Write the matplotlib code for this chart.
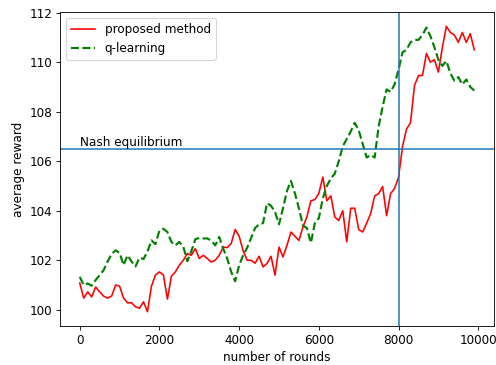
import numpy as np
import matplotlib
matplotlib.use('Agg')
import matplotlib.pyplot as plt

# rounds sampled every 100
rounds = np.arange(0, 10000, 100)

proposed = [
    101.08, 100.47, 100.72, 100.52, 100.92, 100.72, 100.55, 100.47, 100.55, 101.0,
    100.95, 100.47, 100.28, 100.28, 100.12, 100.06, 100.32, 99.92, 100.95, 101.4,
    101.53, 101.4, 100.43, 101.35, 101.53, 101.8, 102.0, 102.27, 102.2, 102.47,
    102.07, 102.2, 102.07, 101.93, 102.0, 102.2, 102.53, 102.51, 102.67, 103.24,
    102.97, 102.38, 102.0, 102.0, 101.88, 102.16, 101.73, 101.87, 102.16, 101.4,
    102.53, 102.13, 102.6, 103.14, 102.97, 102.8, 103.34, 103.75, 104.4, 104.45,
    104.7, 105.36, 104.4, 104.6, 103.75, 103.6, 104.0, 102.74, 104.1, 104.1,
    103.24, 103.14, 103.5, 103.88, 104.6, 104.69, 104.98, 103.8, 104.69, 104.9,
    105.35, 106.6, 107.3, 107.55, 109.06, 109.46, 109.46, 110.35, 110.0, 110.1,
    109.6, 110.6, 111.45, 111.2, 111.1, 110.8, 111.2, 110.8, 111.15, 110.5,
]

qlearning = [
    101.33, 101.0, 101.06, 100.97, 101.2, 101.4, 101.6, 101.95, 102.25, 102.4,
    102.3, 101.8, 102.2, 101.95, 101.75, 102.1, 102.05, 102.35, 102.8, 102.65,
    103.2, 103.27, 103.14, 102.74, 102.6, 102.74, 102.54, 101.96, 102.36, 102.85,
    102.9, 102.88, 102.88, 102.8, 102.6, 102.94, 102.47, 102.07, 101.53, 101.15,
    101.8, 102.2, 102.5, 102.9, 103.3, 103.45, 103.5, 104.3, 104.2, 103.95,
    103.45, 104.1, 104.8, 105.2, 104.7, 104.1, 103.4, 103.3, 102.7, 103.5,
    103.7, 104.5, 105.0, 105.3, 105.5, 106.0, 106.6, 106.9, 107.2, 107.55,
    107.25, 106.7, 106.15, 106.25, 106.15, 107.4, 108.2, 108.9, 108.8, 109.1,
    109.7, 110.4, 110.5, 110.8, 110.9, 110.9, 111.1, 111.4, 111.05, 110.6,
    110.1, 109.85, 110.05, 109.55, 109.25, 109.4, 109.1, 109.3, 109.0, 108.85,
]

nash_value = 106.5
switch_round = 8000

plt.rcParams['font.size'] = 11.2

dpi = 77.5
fig, ax = plt.subplots(figsize=(496 / dpi, 365 / dpi), dpi=dpi)
fig.subplots_adjust(left=60/496, right=494/496, top=1-12/365, bottom=1-326/365)

ax.plot(rounds, proposed, color='red', linewidth=1.5, label='proposed method')
ax.plot(rounds, qlearning, color='green', linestyle='--', linewidth=2, label='q-learning')
ax.axhline(nash_value, color='C0', linewidth=1.4)
ax.axvline(switch_round, color='C0', linewidth=1.4)
ax.text(0, nash_value, 'Nash equilibrium', va='bottom', ha='left')

ax.set_xlabel('number of rounds')
ax.set_ylabel('average reward')
ax.legend(loc='upper left')

fig.savefig('out.png', dpi=dpi)
